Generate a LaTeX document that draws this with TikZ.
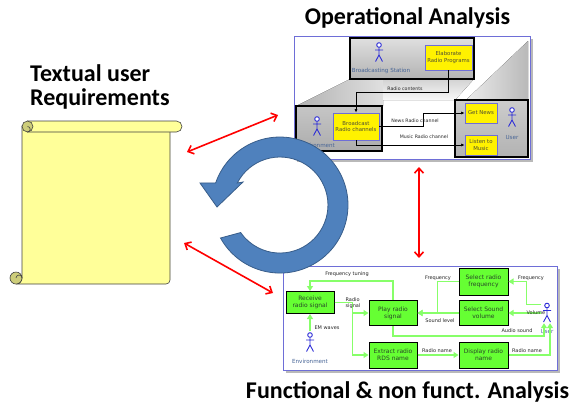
\documentclass[tikz,border=0pt]{standalone}
\usepackage{fontspec}
\setmainfont{Carlito}
\newfontfamily\dejavu{DejaVu Sans}
\usetikzlibrary{arrows.meta, positioning, calc, shadows}

\definecolor{scrollyellow}{RGB}{255,255,153}
\definecolor{scrollcurl}{RGB}{205,205,122}
\definecolor{frameblue}{RGB}{110,110,215}
\definecolor{actorblue}{RGB}{45,45,215}
\definecolor{whoblue}{RGB}{70,100,150}
\definecolor{boxgreen}{RGB}{102,255,51}
\definecolor{linkgreen}{RGB}{135,255,105}
\definecolor{gtext}{RGB}{40,70,40}
\definecolor{ytext}{RGB}{80,80,50}
\definecolor{loopblue}{RGB}{79,129,189}
\definecolor{loopedge}{RGB}{56,93,138}

\begin{document}
\begin{tikzpicture}[
  x=1pt, y=-1pt,
  heading/.style={font=\bfseries\fontsize{24}{23.5}\selectfont, inner sep=0pt, align=left},
  panel/.style={draw=frameblue, fill=white, line width=0.9pt, inner sep=0pt,
                drop shadow={shadow xshift=2.5pt, shadow yshift=-2.5pt, fill=gray!55, opacity=1}},
  stage/.style={draw, line width=1.2pt, top color=gray!25, bottom color=gray!60, inner sep=0pt},
  ybox/.style={draw=frameblue, fill=yellow, line width=0.8pt, align=center, inner sep=0pt,
               text=ytext, font=\dejavu\fontsize{5.4}{6.3}\selectfont},
  gbox/.style={draw, fill=boxgreen, line width=1pt, align=center, inner sep=0pt,
               minimum width=48pt, minimum height=26pt, text=gtext,
               font=\dejavu\fontsize{6}{7}\selectfont},
  actor/.style={minimum width=11pt, minimum height=21pt, inner sep=0pt,
    path picture={
      \begin{scope}[shift={(path picture bounding box.center)}, actorblue, line width=0.9pt]
        \draw[fill=white] (0,-7) circle[radius=2.3];
        \draw (0,-4.7) -- (0,3) (-4,-2) -- (4,-2) (0,3) -- (-3.5,9.5) (0,3) -- (3.5,9.5);
      \end{scope}}},
  who/.style={font=\dejavu\fontsize{5.6}{6.5}\selectfont, text=whoblue, inner sep=0pt},
  lab/.style={font=\dejavu\fontsize{4.7}{5.5}\selectfont, text=black!85, inner sep=0pt},
  glab/.style={font=\dejavu\fontsize{5}{5.8}\selectfont, text=black!85, inner sep=0pt, align=left},
  ar/.style={-{Latex[length=3.5pt,width=3pt]}, line width=0.6pt},
  gar/.style={linkgreen, line width=1.6pt, -{Triangle[length=5pt,width=6pt]}},
  rar/.style={red, line width=1.6pt, {Straight Barb[length=5pt,width=9pt]}-{Straight Barb[length=5pt,width=9pt]}},
  loopfill/.style={fill=loopblue, draw=loopedge, line width=0.8pt},
  sheet/.style={fill=scrollyellow, draw=black!75, line width=0.6pt},
  curl/.style={fill=scrollcurl, draw=black!75, line width=0.6pt}
]
\useasboundingbox (0,0) rectangle (569,405);

% headings
\node[heading, anchor=base] (oatitle) at (407.5,24) {Operational Analysis};
\node[heading, anchor=west] (reqtitle) at (30,87) {Textual user\\Requirements};
\node[heading, anchor=base] (fatitle) at (407.5,398) {Functional \& non funct. Analysis};

% the requirements scroll
\filldraw[sheet] (22,126) -- (22,278) arc[start angle=0, end angle=90, radius=6]
  -- (166,284) arc[start angle=90, end angle=0, radius=4] -- (170,126) -- cycle;
\filldraw[sheet] (27.5,121) -- (176.5,121) arc[start angle=-90, end angle=90, radius=5.5]
  -- (27.5,132) -- cycle;
\filldraw[curl] (27.5,126.5) circle[radius=5.5];
\draw[black!75, line width=0.6pt] (27.5,132) arc[start angle=90, end angle=-90, radius=2.75];
\filldraw[curl] (16,278) circle[radius=6];
\draw[black!75, line width=0.6pt] (22,278) arc[start angle=0, end angle=-180, radius=3];

% operational analysis
\node[panel, minimum width=236pt, minimum height=123pt] (oa) at (412,97.5) {};
\fill[left color=gray!60, right color=gray!25] (350,79) -- (383,79) -- (383,106) -- (296,106) -- cycle;
\fill[top color=gray!35, bottom color=gray!5] (383,79) -- (474,79) -- (455,100) -- (383,100) -- cycle;
\fill[left color=gray!15, right color=gray!55] (528,41) -- (528,100) -- (466,100) -- cycle;
\node[stage, minimum width=124pt, minimum height=41pt] (station) at (412,58.5) {};
\node[stage, minimum width=86pt, minimum height=45pt, top color=gray!45, bottom color=gray!65] (envA) at (339,128.5) {};
\node[stage, minimum width=73pt, minimum height=57pt, top color=gray!40, bottom color=gray!60] (userA) at (491.5,128.5) {};
\node[ybox, minimum width=47pt, minimum height=25pt] (elab) at (448.5,57.5) {Elaborate\\Radio Programs};
\node[ybox, minimum width=46pt, minimum height=27pt] (bcast) at (356,126.5) {Broadcast\\Radio channels};
\node[ybox, minimum width=32pt, minimum height=20pt] (news) at (481,113) {Get News};
\node[ybox, minimum width=32pt, minimum height=20pt] (listen) at (481,145) {Listen to\\Music};
\node[actor] (stationman) at (379,52) {};
\node[actor] (envAman) at (317,126) {};
\node[actor] (userAman) at (512,117) {};
\node[who] (stationname) at (381,71) {Broadcasting Station};
\node[who] (envAname) at (317,145) {Environment};
\node[who] (userAname) at (512,137) {User};
\draw[ar] (elab.south) -- ++(0,22) -| (bcast.north);
\draw[ar] (bcast.east) -- ++(44,0) |- (news.west);
\draw[ar] (bcast.south) |- (listen.west);
\node[lab] (contents) at (405,89) {Radio contents};
\node[lab] (newsch) at (415,121) {News Radio channel};
\node[lab] (musicch) at (424,137) {Music Radio channel};

% functional analysis
\node[panel, minimum width=274pt, minimum height=104pt] (fa) at (420,318) {};
\node[gbox, minimum height=22pt] (receive) at (310,302.5) {Receive\\radio signal};
\node[gbox, minimum height=25pt] (play) at (393,313) {Play radio\\signal};
\node[gbox] (extract) at (393,355) {Extract radio\\RDS name};
\node[gbox, minimum width=49pt, minimum height=27pt] (selfreq) at (483.5,281.5) {Select radio\\frequency};
\node[gbox, minimum width=49pt, minimum height=25pt] (selvol) at (483.5,313) {Select Sound\\volume};
\node[gbox, minimum width=49pt] (display) at (483.5,355) {Display radio\\name};
\node[actor] (envB) at (310,342) {};
\node[actor] (userB) at (547,312.5) {};
\node[who] (envBname) at (310,361) {Environment};
\node[who] (userBname) at (547,331) {User};
\draw[gar] (play.north) -- ++(0,-19) -| (receive.north);
\draw[gar] (receive.east) -- ++(18,0) |- (play.west);
\draw[gar] (receive.east) -- ++(18,0) |- (extract.west);
\draw[gar] (envB.north) -- (receive.south);
\draw[gar] (extract) -- (display);
\draw[gar] (display.east) -| ([xshift=3pt]userB.south);
\draw[gar] (play.south) -- ++(0,10) -| ([xshift=-3pt]userB.south);
\draw[gar] (selfreq.west) -- ++(-21,0) |- (play.east);
\draw[gar] (selvol) -- (play);
\draw[gar] ([yshift=8pt]userB.west) -- ++(-15,0) |- (selfreq.east);
\draw[gar] (userB.west |- selvol.east) -- (selvol.east);
\node[glab] (tuning) at (347,274) {Frequency tuning};
\node[glab] (rsignal) at (353,303.5) {Radio\\signal};
\node[glab] (emwaves) at (327,328) {EM waves};
\node[glab] (freqin) at (438,278) {Frequency};
\node[glab] (soundlvl) at (440,321) {Sound level};
\node[glab] (frequser) at (531,278) {Frequency};
\node[glab] (voluser) at (536,313) {Volume};
\node[glab] (audio) at (517,331) {Audio sound};
\node[glab] (rname) at (437,351) {Radio name};
\node[glab] (rnameuser) at (527,351) {Radio name};

% links between the views
\coordinate (reqA) at (187,152);
\coordinate (oaIn) at (278,115);
\coordinate (reqB) at (184,243);
\coordinate (faIn) at (273,293);
\coordinate (oaOut) at (419,167);
\coordinate (faOut) at (419,258);
\draw[rar] (reqA) -- (oaIn);
\draw[rar] (reqB) -- (faIn);
\draw[rar] (oaOut) -- (faOut);

% iteration arrow
\filldraw[loopfill] (220.5,238) arc[start angle=151, end angle=-161, radius=68]
  -- (200,183) -- (217,207) -- (243,182) -- (237.3,183)
  arc[start angle=-152.7, end angle=145, radius=48] -- cycle;
\end{tikzpicture}
\end{document}
